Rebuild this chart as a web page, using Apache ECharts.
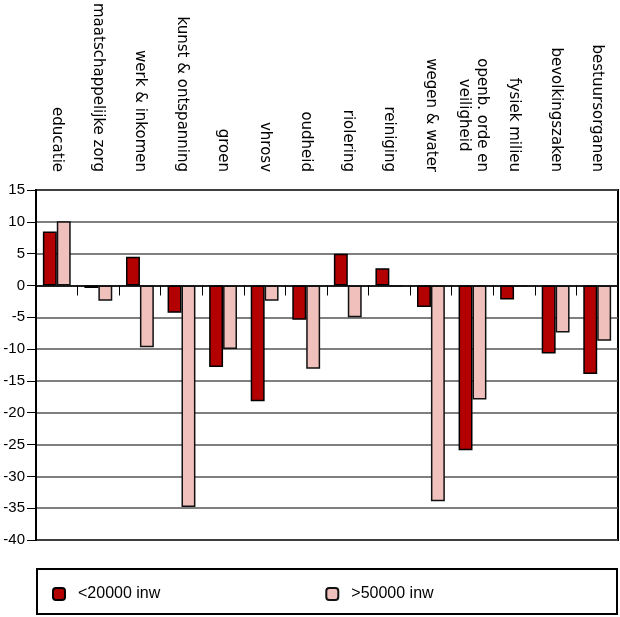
<!DOCTYPE html>
<html>
<head>
    <meta http-equiv="Content-Type" content="text/html; charset=utf-8">
    <title>Uitgaven per taakveld</title>
    <script src="https://cdn.jsdelivr.net/npm/echarts@6/dist/echarts.min.js"></script>
    <style>
        body { margin: 0; background: #fff; }
    </style>
</head>
<body>
    <div id="chart" style="width: 620px;height:617px;"></div>
    <script type="text/javascript">
        var categories = ['educatie', 'maatschappelijke zorg', 'werk & inkomen', 'kunst & ontspanning',
            'groen', 'vhrosv', 'oudheid', 'riolering', 'reiniging', 'wegen & water',
            'openb. orde en\nveiligheid', 'fysiek milieu', 'bevolkingszaken', 'bestuursorganen'];
        var klein = [8.5, -0.4, 4.5, -4.3, -12.8, -18.2, -5.4, 5.0, 2.7, -3.4, -25.9, -2.2, -10.7, -13.9];
        var groot = [10.1, -2.4, -9.7, -34.8, -10.0, -2.4, -13.1, -5.0, -0.2, -33.9, -17.9, -0.2, -7.4, -8.7];
        var seriesNames = ['<20000 inw', '>50000 inw'];

        var chart = echarts.init(document.getElementById('chart'));
        var font = 'Liberation Sans, Arial, sans-serif';
        var option = {
            animation: false,
            textStyle: { fontFamily: font, color: '#000' },
            grid: {
                left: 36, right: 2, top: 190, bottom: 77,
                show: true, borderColor: '#000', borderWidth: 2
            },
            graphic: [{
                type: 'rect',
                shape: { x: 37, y: 569, width: 580, height: 45 },
                style: { fill: 'none', stroke: '#000', lineWidth: 2 }
            }],
            legend: {
                left: 47, top: 581,
                itemWidth: 12, itemHeight: 12,
                itemGap: 165,
                textStyle: { fontSize: 16, color: '#000', fontFamily: font, padding: [0, 0, 0, 8] },
                data: seriesNames
            },
            xAxis: [
                {
                    type: 'category',
                    data: categories,
                    axisLine: { onZero: true, lineStyle: { color: '#000', width: 1.5 } },
                    axisTick: { show: true, interval: 0, length: 10, lineStyle: { color: '#000' } },
                    axisLabel: { show: false }
                },
                {
                    type: 'category',
                    position: 'top',
                    data: categories,
                    axisLine: { show: false },
                    axisTick: { show: false },
                    axisLabel: {
                        rotate: 90, margin: 18, interval: 0,
                        fontSize: 15, color: '#000',
                        formatter: function (value) {
                            return value.split('\n').map(function (s) { return '{a|' + s + '}'; }).join('\n');
                        },
                        rich: {
                            a: { fontSize: 15, fontFamily: 'DejaVu Sans', color: '#000', align: 'center', lineHeight: 18 }
                        }
                    }
                }
            ],
            yAxis: {
                type: 'value',
                min: -40, max: 15, interval: 5,
                axisLine: { show: true, lineStyle: { color: '#000', width: 2 } },
                axisTick: { show: true, length: 9, lineStyle: { color: '#000' } },
                axisLabel: { fontSize: 15, color: '#000', margin: 11, fontFamily: font },
                splitLine: { lineStyle: { color: '#555', width: 1.5 } }
            },
            series: [
                {
                    name: seriesNames[0],
                    type: 'bar',
                    data: klein,
                    barGap: 0,
                    barCategoryGap: '33%',
                    itemStyle: { color: '#b30000', borderColor: '#000', borderWidth: 1.5 }
                },
                {
                    name: seriesNames[1],
                    type: 'bar',
                    data: groot,
                    itemStyle: { color: '#f0c0bc', borderColor: '#111', borderWidth: 1.5 }
                }
            ]
        };
        chart.setOption(option);
    </script>
</body>
</html>
